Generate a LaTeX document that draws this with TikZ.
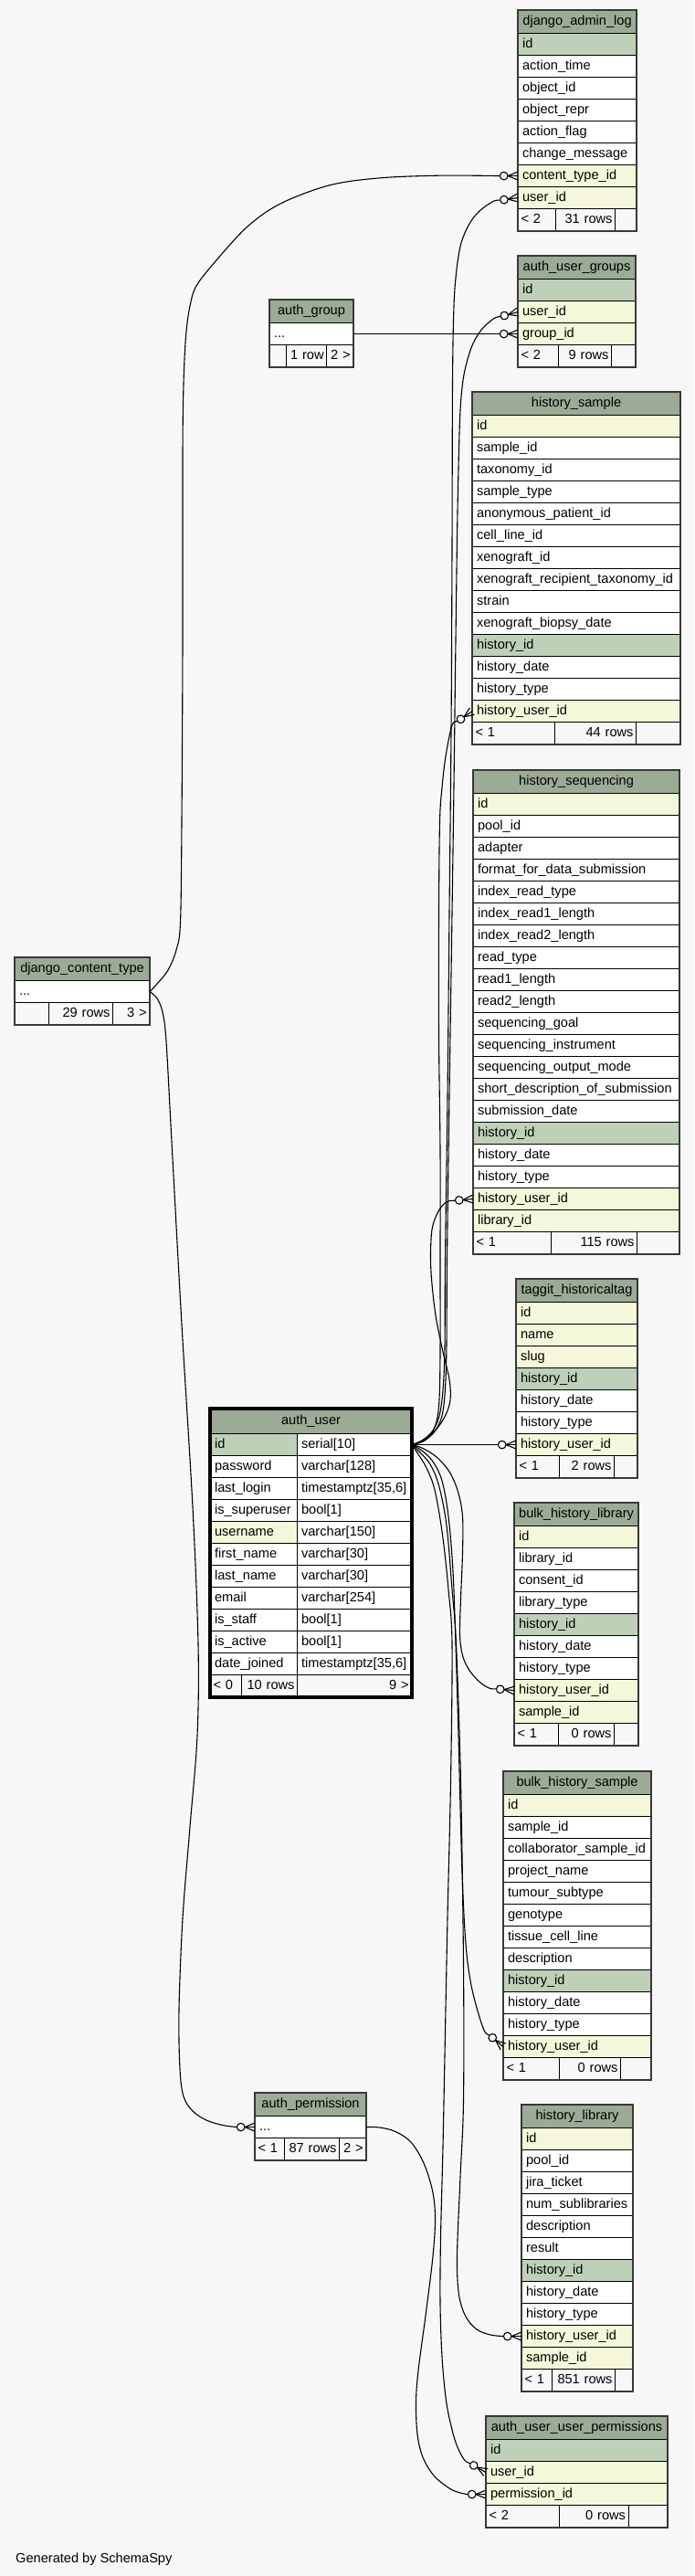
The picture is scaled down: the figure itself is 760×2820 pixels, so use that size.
\documentclass[tikz,border=0pt]{standalone}
\usepackage{fontspec}
\setmainfont{Liberation Sans}
\usetikzlibrary{calc}
\definecolor{bgc}{HTML}{F7F7F7}
\definecolor{headc}{HTML}{9BAB96}
\definecolor{pkc}{HTML}{BED1B8}
\definecolor{fkc}{HTML}{F4F7DA}
\newcommand{\threedots}{...}
\tikzset{
  cellbase/.style={draw=black, line width=1.1pt, anchor=north west, minimum height=24pt,
    inner xsep=4.5pt, inner ysep=0pt, text height=10.5pt, text depth=3.2pt,
    font=\fontsize{14.6pt}{16pt}\selectfont},
  rowcell/.style={cellbase, align=left},
  headcell/.style={cellbase, fill=headc, align=center, minimum height=25pt},
  footl/.style={cellbase, fill=bgc, align=left, inner xsep=3pt},
  footr/.style={cellbase, fill=bgc, align=right, inner xsep=3pt},
  tabframe/.style={draw=black!78, line width=2pt},
  selframe/.style={draw=black, line width=3.4pt},
  rel/.style={line width=1.1pt, draw=black},
  crowfoot/.pic={
    \draw[line width=1.1pt] (0,0) -- (-11,0);
    \draw[line width=1.1pt] (0,4.5) -- (-11,0) -- (0,-4.5);
    \draw[line width=1.1pt, fill=bgc] (-15.3,0) circle[radius=4.3pt];
  },
}
\newcommand{\mktbl}[6]{%
  \node[headcell, text width=\dimexpr #4pt-9pt\relax] (#1) at (#2,#3) {#5};
  \foreach \st/\tx [count=\k] in {#6} {
    \node[rowcell, fill=\st, text width=\dimexpr #4pt-9pt\relax] (#1-\k) at (#2,{#3+1+24*\k}) {\tx};
  }
}
\newcommand{\tblfoot}[9]{%
  \node[footl, text width=\dimexpr #4pt-#3pt-6pt\relax] (#1-fa) at (#3,#2) {#7};
  \node[footr, text width=\dimexpr #5pt-#4pt-6pt\relax] (#1-fb) at (#4,#2) {#8};
  \node[footr, text width=\dimexpr #6pt-#5pt-6pt\relax] (#1-fc) at (#5,#2) {#9};
  \draw[tabframe] (#1.north west) rectangle (#1-fc.south east);
}
\begin{document}
\begin{tikzpicture}[x=1pt,y=-1pt]
\fill[bgc] (0,0) rectangle (760,2820);
\useasboundingbox (0,0) rectangle (760,2820);

% ---------------- tables ----------------
\mktbl{dal}{567}{11}{129}{django\_admin\_log}{pkc/id, white/action\_time, white/object\_id, white/object\_repr, white/action\_flag, white/change\_message, fkc/content\_type\_id, fkc/user\_id}
\tblfoot{dal}{228}{567}{608}{673}{696}{< 2}{31 rows}{}

\mktbl{aug}{567}{280}{128}{auth\_user\_groups}{pkc/id, fkc/user\_id, fkc/group\_id}
\tblfoot{aug}{377}{567}{611}{669}{695}{< 2}{9 rows}{}

\mktbl{ag}{295}{328}{91}{auth\_group}{white/\threedots}
\tblfoot{ag}{377}{295}{313}{357}{386}{}{1 row}{2 >}

\mktbl{hs}{517}{429}{227}{history\_sample}{fkc/id, white/sample\_id, white/taxonomy\_id, white/sample\_type, white/anonymous\_patient\_id, white/cell\_line\_id, white/xenograft\_id, white/xenograft\_recipient\_taxonomy\_id, white/strain, white/xenograft\_biopsy\_date, pkc/history\_id, white/history\_date, white/history\_type, fkc/history\_user\_id}
\tblfoot{hs}{790}{517}{607}{696}{744}{< 1}{44 rows}{}

\mktbl{hq}{518}{843}{225}{history\_sequencing}{fkc/id, white/pool\_id, white/adapter, white/format\_for\_data\_submission, white/index\_read\_type, white/index\_read1\_length, white/index\_read2\_length, white/read\_type, white/read1\_length, white/read2\_length, white/sequencing\_goal, white/sequencing\_instrument, white/sequencing\_output\_mode, white/short\_description\_of\_submission, white/submission\_date, pkc/history\_id, white/history\_date, white/history\_type, fkc/history\_user\_id, fkc/library\_id}
\tblfoot{hq}{1348}{518}{603}{697}{743}{< 1}{115 rows}{}

\mktbl{dct}{16}{1048}{147}{django\_content\_type}{white/\threedots}
\tblfoot{dct}{1097}{16}{53}{123}{163}{}{29 rows}{3 >}

\mktbl{tag}{565}{1400}{132}{taggit\_historicaltag}{fkc/id, fkc/name, fkc/slug, pkc/history\_id, white/history\_date, white/history\_type, fkc/history\_user\_id}
\tblfoot{tag}{1593}{565}{611.5}{672}{697}{< 1}{2 rows}{}

% auth_user (selected table)
\node[headcell, minimum height=27pt, text width=\dimexpr 220pt-9pt\relax] (au) at (230,1542) {auth\_user};
\foreach \ca/\tx/\ty [count=\k] in {pkc/id/serial[10], white/password/varchar[128], white/last\_login/{timestamptz[35,6]}, white/is\_superuser/bool[1], fkc/username/varchar[150], white/first\_name/varchar[30], white/last\_name/varchar[30], white/email/varchar[254], white/is\_staff/bool[1], white/is\_active/bool[1], white/date\_joined/{timestamptz[35,6]}} {
  \node[rowcell, fill=\ca, text width=\dimexpr 95pt-9pt\relax] (au-\k-a) at (230,{1545+24*\k}) {\tx};
  \node[rowcell, fill=white, text width=\dimexpr 125pt-9pt\relax] (au-\k-b) at (325,{1545+24*\k}) {\ty};
}
\tblfoot{au}{1833}{230}{263.6}{325}{450}{< 0}{10 rows}{9 >}
\draw[selframe] (au.north west) rectangle (au-fc.south east);

\mktbl{bhl}{563}{1645}{135}{bulk\_history\_library}{fkc/id, white/library\_id, white/consent\_id, white/library\_type, pkc/history\_id, white/history\_date, white/history\_type, fkc/history\_user\_id, fkc/sample\_id}
\tblfoot{bhl}{1886}{563}{611}{672}{698}{< 1}{0 rows}{}

\mktbl{bhs}{551}{1939}{161}{bulk\_history\_sample}{fkc/id, white/sample\_id, white/collaborator\_sample\_id, white/project\_name, white/tumour\_subtype, white/genotype, white/tissue\_cell\_line, white/description, pkc/history\_id, white/history\_date, white/history\_type, fkc/history\_user\_id}
\tblfoot{bhs}{2252}{551}{612}{679}{712}{< 1}{0 rows}{}

\mktbl{ap}{279}{2291}{121}{auth\_permission}{white/\threedots}
\tblfoot{ap}{2340}{279}{311}{371}{400}{< 1}{87 rows}{2 >}

\mktbl{hl}{571}{2304}{121}{history\_library}{fkc/id, white/pool\_id, white/jira\_ticket, white/num\_sublibraries, white/description, white/result, pkc/history\_id, white/history\_date, white/history\_type, fkc/history\_user\_id, fkc/sample\_id}
\tblfoot{hl}{2593}{571}{604}{673}{692}{< 1}{851 rows}{}

\mktbl{auup}{532}{2645}{198}{auth\_user\_user\_permissions}{pkc/id, fkc/user\_id, fkc/permission\_id}
\tblfoot{auup}{2742}{532}{612}{687.5}{730}{< 2}{0 rows}{}

\node[anchor=base west, inner sep=0pt, font=\fontsize{14.6pt}{16pt}\selectfont] (gen) at (17,2805) {Generated by SchemaSpy};

% ---------------- connector end points ----------------
\coordinate (e1) at ($(dal-7.west)+(180:19.6)$);
\coordinate (e2) at ($(dal-8.west)+(172:19.6)$);
\coordinate (e2p) at ($(dal-8.west)+(172:27)$);
\coordinate (e3) at ($(aug-2.west)+(165:19.6)$);
\coordinate (e3p) at ($(aug-2.west)+(165:27)$);
\coordinate (e4) at ($(aug-3.west)+(180:19.6)$);
\coordinate (e5) at ($(hs-14.west)+(145:19.6)$);
\coordinate (e5p) at ($(hs-14.west)+(145:27)$);
\coordinate (e6) at ($(hq-19.west)+(175:19.6)$);
\coordinate (e6p) at ($(hq-19.west)+(175:27)$);
\coordinate (e7) at ($(tag-7.west)+(180:19.6)$);
\coordinate (e8) at ($(bhl-8.west)+(185:19.6)$);
\coordinate (e8p) at ($(bhl-8.west)+(185:27)$);
\coordinate (e9) at ($(bhs-12.west)+(220:19.6)$);
\coordinate (e9p) at ($(bhs-12.west)+(220:27)$);
\coordinate (e10) at ($(hl-10.west)+(180:19.6)$);
\coordinate (e11) at ($(auup-2.west)+(210:19.6)$);
\coordinate (e11p) at ($(auup-2.west)+(210:27)$);
\coordinate (e12) at ($(auup-3.west)+(180:19.6)$);
\coordinate (e13) at ($(ap-1.west)+(180:19.6)$);

% ---------------- connectors ----------------
% django_content_type -> django_admin_log.content_type_id
\draw[rel] plot[smooth, tension=0.55] coordinates {(dct-1.east) (172,1077) (184,1062) (193,1040) (197.5,1010) (199,900) (200,700) (200,500) (201,420) (203.6,367) (208,335) (215,313) (236,286) (271,248) (307,223) (360,203) (414,195) (480,192.2) (e1)};
% django_content_type -> auth_permission
\draw[rel] plot[smooth, tension=0.55] coordinates {(dct-1.east) (172,1093) (178,1108) (182,1140) (188,1250) (199,1450) (211,1650) (217,1800) (216,1900) (208,2000) (200,2100) (196,2200) (197,2265) (201,2295) (211,2311) (226,2321) (244,2326.5) (e13)};
% auth_group -> auth_user_groups.group_id
\draw[rel] (ag-1.east) -- (e4);
% auth_user -> taggit_historicaltag
\draw[rel] (au-1-b.east) -- (e7);
% auth_user -> django_admin_log.user_id
\draw[rel] plot[smooth, tension=0.55] coordinates {(au-1-b.east) (463,1576.5) (474,1566) (481,1550) (485,1522) (487,1475) (487.5,1380) (490,1200) (492,1000) (494,800) (495,600) (495.5,420) (497,335) (500,295) (505,266) (514,245) (525,231) (e2p) (e2)};
% auth_user -> auth_user_groups.user_id
\draw[rel] plot[smooth, tension=0.55] coordinates {(au-1-b.east) (464,1577.5) (476,1567) (484,1550) (487.5,1520) (489,1470) (489.5,1380) (492,1200) (495,1000) (497,860) (499,700) (501,560) (503.5,460) (506.5,420) (511,397) (518,376) (528,360) (e3p) (e3)};
% auth_user -> history_sample.history_user_id
\draw[rel] plot[smooth, tension=0.55] coordinates {(au-1-b.east) (463,1578) (472,1570) (478,1556) (481,1532) (482,1480) (482,1380) (482,1260) (480.5,1134) (480.5,1000) (481.5,900) (484,862) (488,828) (e5p) (e5)};
% auth_user -> history_sequencing.history_user_id
\draw[rel] plot[smooth, tension=0.55] coordinates {(au-1-b.east) (462,1577) (476,1566.5) (487,1551) (493,1533) (492,1510) (485,1480) (477,1440) (472.5,1400) (471.5,1372) (473,1346) (478,1330) (485,1319) (e6p) (e6)};
% auth_user -> bulk_history_library.history_user_id
\draw[rel] plot[smooth, tension=0.55] coordinates {(au-1-b.east) (463,1585.5) (478,1595) (492,1611) (501.5,1633) (506.5,1660) (506.5,1700) (504.5,1750) (503.5,1790) (507,1814) (515,1830) (526,1842) (e8p) (e8)};
% auth_user -> bulk_history_sample.history_user_id
\draw[rel] plot[smooth, tension=0.55] coordinates {(au-1-b.east) (462,1588) (474,1600) (484,1621) (491,1660) (496,1720) (499,1800) (502,1900) (506,2050) (510,2128) (515,2168) (522,2198) (e9p) (e9)};
% auth_user -> history_library.history_user_id
\draw[rel] plot[smooth, tension=0.55] coordinates {(au-1-b.east) (460,1590) (471,1603) (480.5,1626) (489,1670) (495,1740) (499.5,1800) (504.5,1950) (507.5,2150) (507.5,2300) (504,2383) (500.5,2470) (502.5,2512) (510,2536) (522,2550) (537,2556) (e10)};
% auth_user -> auth_user_user_permissions.user_id
\draw[rel] plot[smooth, tension=0.55] coordinates {(au-1-b.east) (458,1592) (467,1607) (476,1631) (484.5,1680) (491,1740) (495,1800) (493.5,1950) (490,2100) (487,2250) (485,2350) (482.5,2450) (482,2521) (484,2580) (488.5,2628) (495,2660) (501,2679) (e11p) (e11)};
% auth_permission -> auth_user_user_permissions.permission_id
\draw[rel] plot[smooth, tension=0.55] coordinates {(ap-1.east) (416,2329) (433,2333.5) (450,2345) (464,2368) (473.5,2398) (476.5,2428) (474,2470) (466,2535) (458,2595) (455.5,2630) (457,2665) (463,2690) (475,2710) (492,2724) (504,2729) (e12)};

% ---------------- crow's feet ----------------
\pic at (dal-7.west) {crowfoot};
\pic[rotate=8] at (dal-8.west) {crowfoot};
\pic[rotate=15] at (aug-2.west) {crowfoot};
\pic at (aug-3.west) {crowfoot};
\pic[rotate=35] at (hs-14.west) {crowfoot};
\pic[rotate=5] at (hq-19.west) {crowfoot};
\pic at (tag-7.west) {crowfoot};
\pic[rotate=-5] at (bhl-8.west) {crowfoot};
\pic[rotate=-40] at (bhs-12.west) {crowfoot};
\pic at (hl-10.west) {crowfoot};
\pic[rotate=-30] at (auup-2.west) {crowfoot};
\pic at (auup-3.west) {crowfoot};
\pic at (ap-1.west) {crowfoot};
\end{tikzpicture}
\end{document}
